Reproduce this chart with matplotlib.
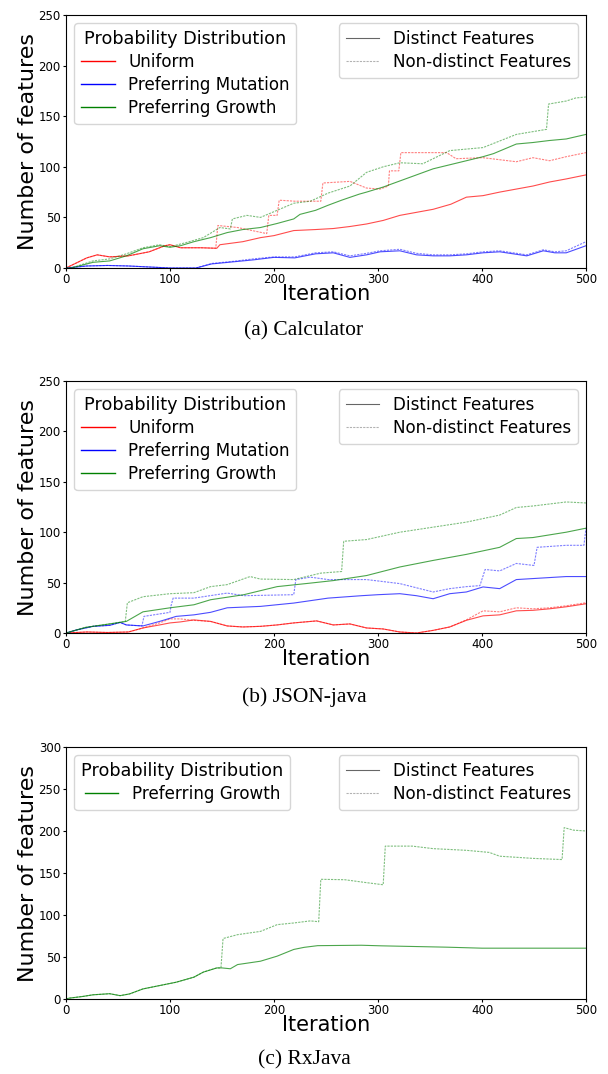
#!/usr/bin/env python3
"""Feature counts per iteration for three subject programs."""

import matplotlib

matplotlib.use("Agg")
import matplotlib.pyplot as plt
from matplotlib.lines import Line2D

ITERATIONS_MAX = 500

# ---- (a) Calculator ----
calc_uniform_x = [0, 10, 20, 30, 42, 60, 80, 95, 100, 110, 130, 145, 148, 170, 187, 200, 219, 240,
                  257, 273, 289, 305, 321, 337, 353, 370, 385, 401, 417, 433, 449, 465, 481, 500]
calc_uniform_distinct = [0, 5, 10, 13, 11, 12, 16, 22, 23, 20, 20, 19.5, 23, 26, 30, 32, 37, 38,
                         39, 41, 43.5, 47, 52, 55, 58, 63, 70, 71.5, 75, 78, 81, 85, 88, 92]
calc_uniform_nd_x = [0, 10, 20, 30, 42, 60, 80, 95, 100, 110, 130, 144, 146, 165, 193, 195, 203, 205,
                     220, 245, 247, 273, 289, 302, 310, 311, 320, 322, 337, 366, 375, 401, 433, 449,
                     465, 481, 500]
calc_uniform_nondistinct = [0, 5, 10, 13, 11, 12, 16, 22, 23, 20, 20, 19.5, 42, 40, 34, 52, 52, 67,
                            66, 66, 84, 85.6, 79, 78, 81, 96, 96, 114, 114, 114, 108, 109, 105, 109,
                            106, 110, 114]
calc_mutation_x = [0, 10, 20, 40, 60, 80, 100, 125, 140, 160, 180, 200, 220, 240, 257, 273, 289, 302,
                   321, 337, 353, 369, 385, 401, 417, 443, 459, 470, 481, 500]
calc_mutation_distinct = [0, 1, 2, 2.5, 2, 1, 0, 0, 4, 6, 8, 10.5, 10, 14, 15, 10.5, 13, 16,
                          17, 13, 12, 12, 13, 15, 16, 12, 17, 15, 15, 22]
calc_mutation_nondistinct = [0, 1, 2, 2.5, 2, 1, 0, 0, 4.5, 6.5, 9, 11, 11, 15, 16, 12, 14.5, 17,
                             18.5, 14.5, 13, 13, 14, 16, 17, 13, 18, 16, 17, 26]
calc_growth_x = [0, 5, 26, 42, 58, 74, 90, 100, 110, 123, 139, 155, 170, 187, 203, 219, 225, 240,
                 252, 265, 282, 289, 305, 321, 337, 353, 369, 385, 401, 411, 433, 449, 465, 481, 500]
calc_growth_distinct = [0, 0, 5.6, 7, 12, 19, 22, 20.5, 22, 26, 30, 35, 38, 40, 44, 48.5, 53, 57,
                        62, 67, 73, 75, 80, 86, 92, 98, 102, 106, 110, 113, 122.5, 124, 126, 127.5,
                        132]
calc_growth_nd_x = [0, 5, 26, 42, 58, 74, 90, 100, 115, 132, 148, 158, 160, 174, 187, 203, 219, 235,
                    252, 273, 289, 305, 321, 343, 369, 401, 433, 462, 464, 481, 490, 500]
calc_growth_nondistinct = [0, 0, 7, 9, 14, 20, 23, 21, 25, 30, 40, 38.6, 48.5, 52, 50, 57, 64, 66,
                           74, 81, 94.5, 100, 104, 103, 116, 119, 132, 137, 162, 165, 168, 169]

# ---- (b) JSON-java ----
json_uniform_x = [0, 20, 40, 60, 74, 90, 100, 110, 123, 139, 155, 170, 187, 203, 219, 241, 257, 273,
                  289, 305, 321, 337, 353, 369, 385, 401, 417, 433, 449, 465, 481, 500]
json_uniform_distinct = [0, 1, 0.5, 1, 5, 8, 10, 11, 13, 11.5, 7, 6, 6.6, 8, 10, 12, 8, 9,
                         5, 4, 1, 0, 2.6, 6, 12.6, 17, 18, 22, 22.5, 24, 26, 29]
json_uniform_nondistinct = [0, 1, 0.5, 1, 5, 10, 14, 14, 12.5, 11.5, 7, 6, 6.6, 8, 10, 12, 8, 9,
                            5, 4, 1, 0, 2.6, 6, 13, 22, 21, 25, 24, 25, 27, 30]
json_mutation_x = [0, 10, 26, 42, 52, 58, 74, 90, 106, 123, 139, 155, 187, 219, 252, 284, 300, 321,
                   337, 353, 369, 385, 401, 417, 433, 449, 481, 500]
json_mutation_distinct = [0, 3, 6.6, 7.6, 10.5, 8, 7, 11.5, 16.5, 18, 20.5, 25, 26.4, 29.7, 34.6, 37,
                          38, 39, 37, 34, 39, 40.7, 45.7, 44, 53, 54, 56, 56]
json_mutation_nd_x = [0, 10, 26, 42, 52, 58, 73, 75, 100, 101, 103, 123, 155, 171, 219, 221, 235, 252,
                      289, 321, 353, 369, 385, 398, 403, 417, 433, 450, 453, 481, 498, 500]
json_mutation_nondistinct = [0, 3, 6.6, 7.6, 10.5, 8, 7, 16.5, 20.5, 27, 34.6, 34.6, 39.6, 37, 38, 53,
                             55.4, 53, 53, 49, 40.7, 44, 46, 47, 63, 61.6, 69, 67, 85, 87, 87, 104]
json_growth_x = [0, 19, 42, 58, 74, 100, 123, 139, 171, 203, 235, 257, 289, 321, 353, 385, 417, 433,
                 449, 481, 500]
json_growth_distinct = [0, 5.6, 9, 11.5, 21, 25, 28, 33, 38, 46, 49.5, 52, 57, 65.5, 72, 78, 85, 93.7,
                        94.7, 100, 104]
json_growth_nd_x = [0, 19, 42, 57, 59, 74, 100, 123, 139, 155, 177, 187, 219, 245, 265, 267, 289, 321,
                    353, 385, 417, 433, 449, 481, 500]
json_growth_nondistinct = [0, 5.6, 9, 11.5, 30, 36, 39, 40, 46, 48, 56, 53.5, 53, 59.4, 61, 91, 92.7,
                           100, 105, 110, 117, 124.5, 126, 130, 129]

# ---- (c) RxJava ----
rx_growth_x = [0, 3, 16, 26, 42, 52, 61, 74, 90, 106, 123, 132, 145, 150, 158, 165, 187, 203, 219,
               229, 242, 284, 303, 366, 400, 500]
rx_growth_distinct = [0, 1, 3, 5, 6.3, 4, 6, 12, 16, 20, 26, 32, 37, 37, 36, 41, 45, 51, 59,
                      61.5, 63.5, 64, 63.3, 61.7, 60.5, 60.5]
rx_growth_nd_x = [0, 3, 16, 26, 42, 52, 61, 74, 90, 106, 123, 132, 145, 149, 151, 165, 187, 203, 219,
                  235, 243, 245, 268, 289, 305, 307, 333, 353, 385, 407, 417, 449, 477, 479, 488, 500]
rx_growth_nondistinct = [0, 1, 3, 5, 6.3, 4, 6, 12, 16, 20, 26, 32, 37, 37, 72, 76.6, 80.5, 88.5, 90.5,
                         93, 92, 142.5, 142, 138.5, 136, 182, 182, 179, 177, 174.5, 170, 167.4, 166,
                         204, 201, 200]

COLORS = {"Uniform": "red", "Preferring Mutation": "blue", "Preferring Growth": "green"}

PANELS = [
    {
        "caption": "(a) Calculator",
        "ylim": 250,
        "series": [
            ("Uniform", calc_uniform_x, calc_uniform_distinct, calc_uniform_nd_x, calc_uniform_nondistinct),
            ("Preferring Mutation", calc_mutation_x, calc_mutation_distinct, calc_mutation_x,
             calc_mutation_nondistinct),
            ("Preferring Growth", calc_growth_x, calc_growth_distinct, calc_growth_nd_x,
             calc_growth_nondistinct),
        ],
    },
    {
        "caption": "(b) JSON-java",
        "ylim": 250,
        "series": [
            ("Uniform", json_uniform_x, json_uniform_distinct, json_uniform_x, json_uniform_nondistinct),
            ("Preferring Mutation", json_mutation_x, json_mutation_distinct, json_mutation_nd_x,
             json_mutation_nondistinct),
            ("Preferring Growth", json_growth_x, json_growth_distinct, json_growth_nd_x,
             json_growth_nondistinct),
        ],
    },
    {
        "caption": "(c) RxJava",
        "ylim": 300,
        "series": [
            ("Preferring Growth", rx_growth_x, rx_growth_distinct, rx_growth_nd_x, rx_growth_nondistinct),
        ],
    },
]

# axes boxes in figure pixels (top, bottom) and caption centre
AX_LEFT, AX_RIGHT = 66, 586
AX_ROWS = [(15, 268, 331), (381, 633, 697), (747, 999, 1060)]
FIG_W, FIG_H = 608, 1074


def draw_panel(fig, panel, row):
    top, bottom, caption_y = row
    ax = fig.add_axes([
        AX_LEFT / FIG_W,
        1 - bottom / FIG_H,
        (AX_RIGHT - AX_LEFT) / FIG_W,
        (bottom - top) / FIG_H,
    ])

    dist_handles = []
    for name, xd, yd, xn, yn in panel["series"]:
        color = COLORS[name]
        ax.plot(xd, yd, color=color, linewidth=0.8, alpha=0.7)
        ax.plot(xn, yn, color=color, linewidth=0.8, alpha=0.5, linestyle=(0, (2, 1)))
        dist_handles.append(Line2D([], [], color=color, linewidth=1.0, label=name))

    ax.set_xlim(0, ITERATIONS_MAX)
    ax.set_ylim(0, panel["ylim"])
    ax.tick_params(labelsize=8.5, length=2.5, pad=1.2)
    ax.set_xlabel("Iteration", fontsize=15, labelpad=-1.5)
    ax.set_ylabel("Number of features", fontsize=16, labelpad=0.5)

    leg1 = ax.legend(handles=dist_handles, title="Probability Distribution", loc="upper left",
                     fontsize=12.1, title_fontsize=12.7, handlelength=2.0, borderpad=0.4,
                     labelspacing=0.3)
    ax.add_artist(leg1)
    kind_handles = [
        Line2D([], [], color="black", linewidth=0.8, alpha=0.6, label="Distinct Features"),
        Line2D([], [], color="black", linewidth=0.8, alpha=0.3, linestyle=(0, (2, 1)),
               label="Non-distinct Features"),
    ]
    ax.legend(handles=kind_handles, loc="upper right", fontsize=12.1, handlelength=2.0,
              borderpad=0.4, labelspacing=0.3)

    fig.text(0.5, 1 - caption_y / FIG_H, panel["caption"], ha="center", va="center",
             fontsize=15.5, family="Liberation Serif")
    return ax


def main():
    fig = plt.figure(figsize=(FIG_W / 100, FIG_H / 100), dpi=100)
    for panel, row in zip(PANELS, AX_ROWS):
        draw_panel(fig, panel, row)
    fig.savefig("out.png", dpi=100)
    plt.close(fig)


if __name__ == "__main__":
    main()
